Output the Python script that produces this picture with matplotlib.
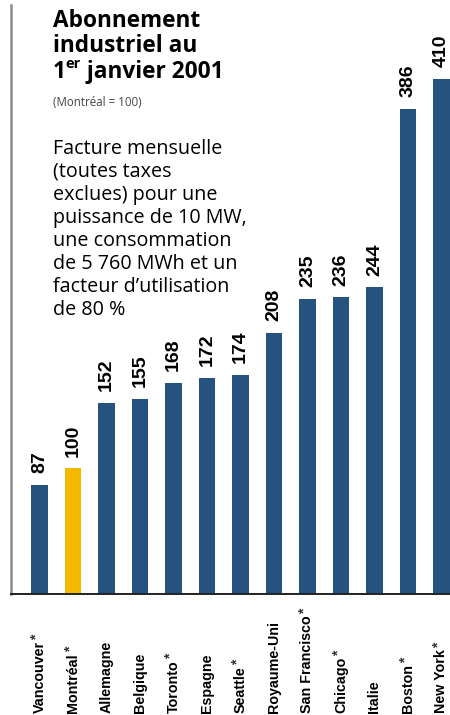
import matplotlib
matplotlib.use("Agg")
import matplotlib.pyplot as plt
from matplotlib.transforms import blended_transform_factory

plt.rcParams['font.family'] = ['Open Sans', 'DejaVu Sans']

categories = ['Vancouver', 'Montréal', 'Allemagne', 'Belgique', 'Toronto', 'Espagne',
              'Seattle', 'Royaume-Uni', 'San Francisco', 'Chicago', 'Italie',
              'Boston', 'New York']
starred = [True, True, False, False, True, False, True, False, True, True, False, True, True]
values = [87, 100, 152, 155, 168, 172, 174, 208, 235, 236, 244, 386, 410]

title_lines = ['Abonnement', 'industriel au']
subtitle = '(Montréal = 100)'
para_lines = ['Facture mensuelle', '(toutes taxes', 'exclues) pour une',
              'puissance de 10 MW,', 'une consommation', 'de 5 760 MWh et un',
              'facteur d\u2019utilisation', 'de 80 %']

blue = '#26527f'
yellow = '#f3b800'
colors = [yellow if c == 'Montréal' else blue for c in categories]

W, H = 450, 715
fig = plt.figure(figsize=(W / 100, H / 100), dpi=100)
ax = fig.add_axes([11 / W, 121 / H, 439 / W, 589 / H])

x = list(range(len(categories)))
ax.bar(x, values, width=0.5, color=colors)
ax.set_xlim(-0.851, 12.254)
ax.set_ylim(0, 468.6)
ax.set_xticks([])
ax.set_yticks([])
for s in ['top', 'right']:
    ax.spines[s].set_visible(False)
ax.spines['left'].set_color('#8c8c8c')
ax.spines['left'].set_linewidth(1.8)
ax.spines['bottom'].set_color('#222222')
ax.spines['bottom'].set_linewidth(1.4)

for xi, v in zip(x, values):
    ax.annotate(str(v), xy=(xi, v), xytext=(0, 8.5), textcoords='offset points',
                rotation=90, ha='center', va='bottom', fontsize=14,
                fontweight='bold', family='Liberation Sans')

trans = blended_transform_factory(ax.transData, fig.transFigure)
labels = []
for xi, c in zip(x, categories):
    t = ax.text(xi, 2 / H, c, transform=trans, rotation=90, ha='center', va='bottom',
                fontsize=10.3, fontweight='bold', family='Liberation Sans')
    labels.append(t)

# title
def px(xp, yp):
    return xp / W, 1 - yp / H

for i, line in enumerate(title_lines):
    fig.text(*px(53, 27 + 25.3 * i), line, ha='left', va='baseline',
             fontsize=16.3, fontweight='bold')
t1 = fig.text(*px(53, 77.5), '1', ha='left', va='baseline', fontsize=16.3, fontweight='bold')

fig.text(*px(53, 106), subtitle, ha='left', va='baseline', fontsize=8.3, color='#444444')
for i, line in enumerate(para_lines):
    fig.text(*px(53, 154 + 23 * i), line, ha='left', va='baseline', fontsize=14.2)

fig.canvas.draw()
r = fig.canvas.get_renderer()

# superscript "er" and rest of the third title line
bb = t1.get_window_extent(r)
t2 = fig.text((bb.x1 - 1) / W, 1 - 68 / H, 'er', ha='left', va='baseline',
              fontsize=10.5, fontweight='bold')
bb2 = t2.get_window_extent(r)
fig.text((bb2.x1 + 1) / W, 1 - 77.5 / H, ' janvier 2001', ha='left', va='baseline',
         fontsize=16.3, fontweight='bold')

# asterisks after starred city names
for t, st in zip(labels, starred):
    if st:
        b = t.get_window_extent(r)
        fig.text((b.x0 + 4) / W, (b.y1 + 1) / H, '*', rotation=90, ha='center',
                 va='bottom', fontsize=10, fontweight='bold', family='Liberation Sans',
                 color='#333333')

fig.savefig('out.png', dpi=100)
